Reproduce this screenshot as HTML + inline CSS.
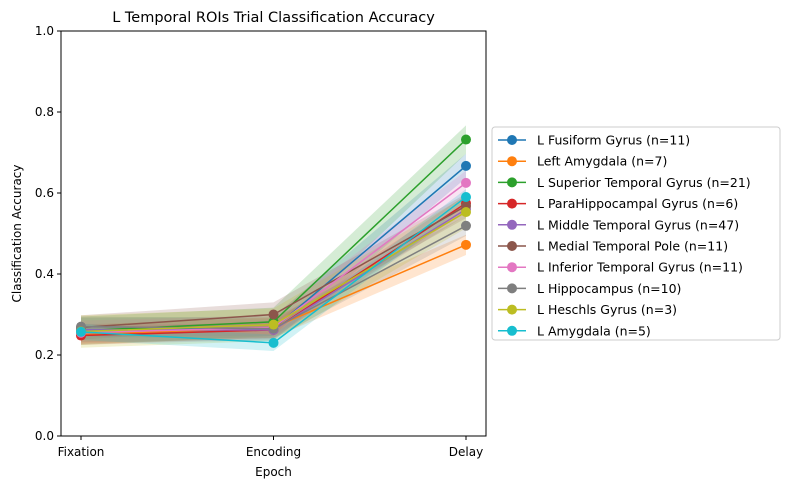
<!DOCTYPE html>
<html><head><meta charset="utf-8"><style>
body{margin:0;background:#fff;font-family:"Liberation Sans","DejaVu Sans",sans-serif}
</style></head><body>
<svg width="790" height="490" viewBox="0 0 790 490" id="svg" font-family="DejaVu Sans, Liberation Sans, sans-serif">
</svg>
<script>
const categories=["Fixation","Encoding","Delay"];
const seriesNames=["L Fusiform Gyrus (n=11)","Left Amygdala (n=7)","L Superior Temporal Gyrus (n=21)","L ParaHippocampal Gyrus (n=6)","L Middle Temporal Gyrus (n=47)","L Medial Temporal Pole (n=11)","L Inferior Temporal Gyrus (n=11)","L Hippocampus (n=10)","L Heschls Gyrus (n=3)","L Amygdala (n=5)"];
const colors=["#1f77b4","#ff7f0e","#2ca02c","#d62728","#9467bd","#8c564b","#e377c2","#7f7f7f","#bcbd22","#17becf"];
const s0=[0.262,0.265,0.667];
const s1=[0.250,0.268,0.472];
const s2=[0.260,0.282,0.732];
const s3=[0.248,0.262,0.575];
const s4=[0.262,0.262,0.560];
const s5=[0.268,0.300,0.568];
const s6=[0.255,0.268,0.625];
const s7=[0.270,0.265,0.519];
const s8=[0.258,0.275,0.553];
const s9=[0.257,0.230,0.590];
const series=[s0,s1,s2,s3,s4,s5,s6,s7,s8,s9];
const errs=[0.03,0.025,0.035,0.02,0.015,0.03,0.03,0.025,0.04,0.02];
const yTicks=[0,0.2,0.4,0.6,0.8,1.0];
const svg=document.getElementById('svg');
const NS="http://www.w3.org/2000/svg";
const L=61,R=486,T=31,B=436;
const xs=i=>81+i*(466-81)/(categories.length-1);
const ys=v=>B-(B-T)*v;
function mk(t,a,p){const e=document.createElementNS(NS,t);for(const k in a)e.setAttribute(k,a[k]);(p||svg).appendChild(e);return e;}
let t=mk('text',{x:273.5,y:22,'text-anchor':'middle','font-size':14.5,fill:'#000'});t.textContent="L Temporal ROIs Trial Classification Accuracy";


series.forEach((s,k)=>{
 let up=s.map((v,i)=>xs(i)+','+ys(v+errs[k])).join(' ');
 let dn=s.map((v,i)=>xs(i)+','+ys(v-errs[k])).reverse().join(' ');
 let p=mk('polygon',{points:up+' '+dn,fill:colors[k],'fill-opacity':0.2});
 
 
});
series.forEach((s,k)=>{
 let l=mk('polyline',{points:s.map((v,i)=>xs(i)+','+ys(v)).join(' '),fill:'none',stroke:colors[k],'stroke-width':1.5});
 
 
 s.forEach((v,i)=>{let c=mk('circle',{cx:xs(i),cy:ys(v),r:5,fill:colors[k]});
 
 });
});
let ax=mk('rect',{x:L,y:T,width:R-L,height:B-T,fill:'none',stroke:'#000','stroke-width':1});


yTicks.forEach(v=>{mk('line',{x1:L-4,x2:L,y1:ys(v),y2:ys(v),stroke:'#000'});
 let tt=mk('text',{x:L-7,y:ys(v)+4,'text-anchor':'end','font-size':12});tt.textContent=v.toFixed(1);
 
 });
categories.forEach((c,i)=>{mk('line',{x1:xs(i),x2:xs(i),y1:B,y2:B+4,stroke:'#000'});
 let tt=mk('text',{x:xs(i),y:B+20,'text-anchor':'middle','font-size':12});tt.textContent=c;
 
 });
t=mk('text',{x:273.5,y:476,'text-anchor':'middle','font-size':12});t.textContent="Epoch";


t=mk('text',{x:21,y:233.5,'text-anchor':'middle','font-size':12,transform:'rotate(-90 21 233.5)'});t.textContent="Classification Accuracy";


let lg=mk('g',{});


mk('rect',{x:492,y:127,width:288,height:213,rx:3,fill:'#fff',stroke:'#ccc'},lg);
seriesNames.forEach((n,k)=>{const y=140+k*21.2;
 let g=mk('g',{},lg);
 
 
 mk('line',{x1:498,x2:526,y1:y,y2:y,stroke:colors[k],'stroke-width':1.5},g);
 mk('circle',{cx:512,cy:y,r:5,fill:colors[k]},g);
 let tt=mk('text',{x:537,y:y+4.5,'font-size':12.5},g);tt.textContent=n;});
</script>
</body></html>
